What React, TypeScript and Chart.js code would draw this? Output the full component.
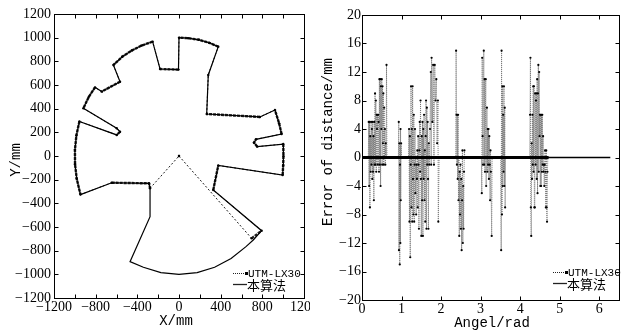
import React, { useEffect, useRef } from 'react';
import { Chart, registerables } from 'chart.js';
Chart.register(...registerables);

// ---------- Left panel: scan outline (X/mm, Y/mm) ----------
// "本算法" : full 360° outline, counter-clockwise from -45°
const algoOutline: [number, number][] = [
  [713, -710], [793, -631], [329, -287], [377, -80], [995, -161], [1000, -80], [1003, 0], [1001, 101],
  [751, 79], [720, 113], [739, 141], [985, 186], [961, 276], [921, 389], [777, 330], [266, 355],
  [281, 685], [377, 924], [292, 956], [191, 982], [87, 996], [0, 1000], [-5, 730], [-182, 735],
  [-253, 966], [-358, 934], [-454, 891], [-545, 839], [-630, 769], [-566, 628], [-742, 544], [-806, 580],
  [-866, 500], [-918, 403], [-598, 234], [-566, 205], [-598, 178], [-956, 292], [-985, 174], [-999, 52],
  [-998, -70], [-982, -191], [-946, -326], [-646, -226], [-288, -231], [-278, -273], [-278, -513], [-470, -893],
  [-342, -940], [-174, -985], [0, -1000], [174, -985], [342, -940], [500, -866], [643, -766], [713, -710],
];
// "UTM-LX30" : 270° scan, dead zone closed through the origin
const utmOutline: [number, number][] = [
  [0, 0], [697, -696], [793, -631], [329, -287], [377, -80], [995, -161], [1000, -80], [1003, 0], [1001, 101],
  [751, 79], [720, 113], [739, 141], [985, 186], [961, 276], [921, 389], [777, 330], [266, 355],
  [281, 685], [377, 924], [292, 956], [191, 982], [87, 996], [0, 1000], [-5, 730], [-182, 735],
  [-253, 966], [-358, 934], [-454, 891], [-545, 839], [-630, 769], [-566, 628], [-742, 544], [-806, 580],
  [-866, 500], [-918, 403], [-598, 234], [-566, 205], [-598, 178], [-956, 292], [-985, 174], [-999, 52],
  [-998, -70], [-982, -191], [-946, -326], [-646, -226], [-288, -231], [-278, -273], [0, 0],
];

// ---------- Right panel: distance error vs angle ----------
const clusterA: [number, number][] = [
  [0, 0], [0.16, 0], [0.17, 5], [0.18, -4], [0.19, 5], [0.2, -7], [0.21, 3], [0.22, -2], [0.23, 5], [0.24, -1],
  [0.25, 4], [0.26, -3], [0.27, 5], [0.28, -2], [0.29, 3], [0.3, -6], [0.31, 5], [0.32, -1], [0.33, 9], [0.34, -1],
  [0.35, 8], [0.36, -2], [0.37, 6], [0.38, 4], [0.39, 6], [0.4, -1], [0.41, 6], [0.42, 5], [0.43, -2], [0.44, 11],
  [0.45, -1], [0.46, 11], [0.47, -4], [0.48, 10], [0.49, 4], [0.5, 11], [0.51, -1], [0.52, 10], [0.53, 2], [0.54, 9],
  [0.55, -1], [0.56, 7], [0.57, 0], [0.58, 4], [0.59, -1], [0.6, 2], [0.61, 0], [0.62, 13], [0.63, 0],
];
const clusterB: [number, number][] = [
  [0.92, 0], [0.93, 5], [0.935, -13], [0.945, 2], [0.955, -15], [0.96, -1], [0.97, -12], [0.975, 4], [0.98, -6],
  [0.99, 2], [1.0, 0],
];
const clusterC: [number, number][] = [
  [1.18, 0], [1.19, 4], [1.2, -9], [1.21, 3], [1.22, -14], [1.23, -1], [1.24, 10], [1.25, -7], [1.26, 4], [1.27, -9],
  [1.28, 10], [1.29, -3], [1.3, -8], [1.31, 6], [1.32, -9], [1.33, -1], [1.34, 4], [1.35, -5], [1.36, 0], [1.37, -8],
  [1.38, -1], [1.39, -3], [1.4, 1], [1.41, -7], [1.42, 3], [1.43, -1], [1.44, -10], [1.45, 1], [1.46, 5], [1.47, -2],
  [1.48, 8], [1.49, -3], [1.5, -11], [1.51, 3], [1.52, -6], [1.53, 5], [1.54, -11], [1.55, 4], [1.56, -3], [1.57, 6],
  [1.58, -6], [1.59, 1], [1.6, -9], [1.61, 3], [1.62, 8], [1.63, -10], [1.64, 7], [1.65, -1], [1.66, 5], [1.67, -3],
  [1.68, -10], [1.69, 2], [1.7, -1], [1.72, 4], [1.74, 12], [1.75, -1], [1.76, 14], [1.78, 5], [1.8, 13], [1.82, -1],
  [1.84, 13], [1.86, 8], [1.88, 11], [1.9, 2], [1.92, 8], [1.93, -9], [1.95, 0],
];
const clusterD: [number, number][] = [
  [2.37, 0], [2.38, 15], [2.39, 6], [2.4, -1], [2.41, 6], [2.42, -3], [2.43, 6], [2.44, -6], [2.45, 0], [2.46, -11],
  [2.47, -2], [2.48, -8], [2.49, -1], [2.5, -10], [2.51, -3], [2.52, -13], [2.53, -6], [2.54, 1], [2.55, -12],
  [2.56, -4], [2.57, -10], [2.58, -2], [2.59, 1], [2.6, 0],
];
const clusterE: [number, number][] = [
  [3.02, 0], [3.03, -5], [3.04, 14], [3.05, 3], [3.06, -1], [3.08, 15], [3.09, -1], [3.1, 11], [3.11, -2], [3.13, 11],
  [3.14, -4], [3.16, 7], [3.17, -2], [3.18, 4], [3.19, -1], [3.2, 4], [3.21, -3], [3.22, 3], [3.23, -1], [3.24, -6],
  [3.25, 1], [3.26, -2], [3.28, -11], [3.29, 0],
];
const clusterF: [number, number][] = [
  [3.51, 0], [3.52, -13], [3.53, 15], [3.54, -8], [3.55, 10], [3.56, -4], [3.57, 6], [3.58, -2], [3.59, 10],
  [3.6, -4], [3.61, 7], [3.62, -7], [3.63, 0],
];
const clusterG: [number, number][] = [
  [4.24, 0], [4.25, 6], [4.26, 14], [4.27, -7], [4.28, -11], [4.29, 2], [4.3, -3], [4.31, 6], [4.32, -1], [4.33, 10],
  [4.34, -2], [4.35, 10], [4.36, -7], [4.37, -7], [4.38, 9], [4.39, -1], [4.4, 8], [4.41, 9], [4.42, -3], [4.43, 11],
  [4.44, -5], [4.45, 9], [4.46, 13], [4.47, -2], [4.48, 12], [4.49, 3], [4.5, 6], [4.51, -4], [4.52, 6], [4.53, -4],
  [4.54, 6], [4.55, -2], [4.56, 6], [4.57, -1], [4.58, 3], [4.59, -2], [4.6, -1], [4.61, -4], [4.62, -1], [4.63, 1],
  [4.64, -2], [4.65, -7], [4.66, 1], [4.67, -7], [4.68, -9], [4.69, -2], [4.7, 0], [4.71, 0],
];
const algoError: [number, number][] = [[0, 0], [4.71, 0], [6.28, 0]];

// ---------- Ticks & labels ----------
const leftXTicks = [-1200, -1000, -800, -600, -400, -200, 0, 200, 400, 600, 800, 1000, 1200];
const leftXLabels = [-1200, -800, -400, 0, 400, 800, 1200];
const leftYTicks = [-1200, -1000, -800, -600, -400, -200, 0, 200, 400, 600, 800, 1000, 1200];
const rightXTicks = [0, 1, 2, 3, 4, 5, 6];
const rightYTicks = [-20, -16, -12, -8, -4, 0, 4, 8, 12, 16, 20];
const seriesNames = ['UTM-LX30', '本算法'];
const leftTitles = { x: 'X/mm', y: 'Y/mm' };
const rightTitles = { x: 'Angel/rad', y: 'Error of distance/mm' };

const TICK_FONT = { family: '"Liberation Serif", "Times New Roman", serif', size: 14 };
const MONO = '"Liberation Mono", "DejaVu Sans Mono", monospace';
const CJK = '"Noto Sans CJK SC", sans-serif';

const fmt = (v: number) => (v < 0 ? '\u2212' + Math.abs(v) : String(v));
const toXY = (arr: [number, number][]) => arr.map(([x, y]) => ({ x, y }));

// segment facing the scanner (dense returns) vs. grazing/radial segment
const isFacing = (c: any) => {
  const x0 = c.p0.parsed.x, y0 = c.p0.parsed.y, x1 = c.p1.parsed.x, y1 = c.p1.parsed.y;
  const dx = x1 - x0, dy = y1 - y0, mx = (x0 + x1) / 2, my = (y0 + y1) / 2;
  const dl = Math.hypot(dx, dy), ml = Math.hypot(mx, my);
  if (dl === 0 || ml === 0) return false;
  return Math.abs(dx * my - dy * mx) / (dl * ml) > 0.45;
};

type Deco = {
  xTitle: string; yTitle: string;
  xTitlePos: [number, number]; yTitlePos: [number, number];
  legendX: number; legendY: number;
};

function decoPlugin(d: Deco) {
  return {
    id: 'deco',
    afterDraw(chart: any) {
      const { ctx, chartArea } = chart;
      const { left, right, top, bottom } = chartArea;
      const xs = chart.scales.x, ys = chart.scales.y;
      ctx.save();
      ctx.strokeStyle = '#000';
      ctx.lineWidth = 1;
      ctx.setLineDash([]);
      const L = Math.round(left) + 0.5, R = Math.round(right) + 0.5;
      const T = Math.round(top) + 0.5, B = Math.round(bottom) + 0.5;
      ctx.strokeRect(L, T, R - L, B - T);
      const tl = 4;
      ctx.beginPath();
      xs.ticks.forEach((t: any) => {
        const p = Math.round(xs.getPixelForValue(t.value)) + 0.5;
        ctx.moveTo(p, B); ctx.lineTo(p, B - tl);
        ctx.moveTo(p, T); ctx.lineTo(p, T + tl);
      });
      ys.ticks.forEach((t: any) => {
        const p = Math.round(ys.getPixelForValue(t.value)) + 0.5;
        ctx.moveTo(L, p); ctx.lineTo(L + tl, p);
        ctx.moveTo(R, p); ctx.lineTo(R - tl, p);
      });
      ctx.stroke();

      // axis titles
      ctx.fillStyle = '#000';
      ctx.font = `14px ${MONO}`;
      ctx.textAlign = 'center';
      ctx.textBaseline = 'middle';
      ctx.fillText(d.xTitle, d.xTitlePos[0], d.xTitlePos[1]);
      ctx.save();
      ctx.translate(d.yTitlePos[0], d.yTitlePos[1]);
      ctx.rotate(-Math.PI / 2);
      ctx.fillText(d.yTitle, 0, 0);
      ctx.restore();

      // legend (inside, bottom-right)
      const lx = d.legendX, ly = d.legendY;
      ctx.strokeStyle = '#222';
      ctx.setLineDash([1, 1]);
      ctx.beginPath();
      ctx.moveTo(lx, ly + 0.5); ctx.lineTo(lx + 12, ly + 0.5);
      ctx.stroke();
      ctx.setLineDash([]);
      ctx.fillStyle = '#000';
      ctx.fillRect(lx + 12, ly - 1, 3, 3);
      ctx.textAlign = 'left';
      ctx.font = `11px ${MONO}`;
      ctx.fillText(seriesNames[0], lx + 15, ly + 1);
      ctx.lineWidth = 1.3;
      ctx.beginPath();
      ctx.moveTo(lx, ly + 11.5); ctx.lineTo(lx + 14, ly + 11.5);
      ctx.stroke();
      ctx.font = `13px ${CJK}`;
      ctx.fillText(seriesNames[1], lx + 14, ly + 12);
      ctx.restore();
    },
  };
}

function fixScale(size: number, vertical: boolean) {
  return (s: any) => {
    if (vertical) s.width = size; else s.height = size;
    s.paddingLeft = 0; s.paddingRight = 0; s.paddingTop = 0; s.paddingBottom = 0;
  };
}

export default function App() {
  const leftRef = useRef<HTMLCanvasElement>(null);
  const rightRef = useRef<HTMLCanvasElement>(null);

  useEffect(() => {
    const leftChart = new Chart(leftRef.current!, {
      type: 'scatter',
      data: {
        datasets: [
          {
            label: seriesNames[1],
            data: toXY(algoOutline),
            showLine: true,
            borderColor: '#000',
            borderWidth: 1.2,
            pointRadius: 0,
          },
          {
            label: seriesNames[0],
            data: toXY(utmOutline),
            showLine: true,
            borderColor: '#222',
            borderWidth: 1,
            borderDash: [2, 2],
            segment: {
              borderWidth: (c: any) => (isFacing(c) ? 2.4 : 1),
              borderDash: (c: any) => (isFacing(c) ? [3, 1] : [2, 2]),
            },
            pointRadius: 1.2,
            pointBackgroundColor: '#000',
            pointBorderWidth: 0,
          },
        ],
      },
      options: {
        responsive: false,
        animation: false,
        events: [],
        layout: { padding: { left: 0, right: 6, top: 14, bottom: 0 } },
        plugins: { legend: { display: false }, tooltip: { enabled: false } },
        scales: {
          x: {
            type: 'linear', min: -1200, max: 1200,
            afterBuildTicks: (s: any) => { s.ticks = leftXTicks.map((v) => ({ value: v })); },
            afterFit: fixScale(37, false),
            grid: { display: false, drawTicks: false },
            border: { display: false },
            ticks: {
              font: TICK_FONT, color: '#000', padding: 1, maxRotation: 0, autoSkip: false,
              callback: (v: any) => (leftXLabels.includes(Number(v)) ? fmt(Number(v)) : ''),
            },
          },
          y: {
            type: 'linear', min: -1200, max: 1200,
            afterBuildTicks: (s: any) => { s.ticks = leftYTicks.map((v) => ({ value: v })); },
            afterFit: fixScale(54, true),
            grid: { display: false, drawTicks: false },
            border: { display: false },
            ticks: { font: TICK_FONT, color: '#000', padding: 3, autoSkip: false, callback: (v: any) => fmt(Number(v)) },
          },
        },
      },
      plugins: [decoPlugin({
        xTitle: leftTitles.x, yTitle: leftTitles.y,
        xTitlePos: [176, 321], yTitlePos: [16, 160],
        legendX: 233, legendY: 273,
      })],
    } as any);

    const rightChart = new Chart(rightRef.current!, {
      type: 'scatter',
      data: {
        datasets: [
          {
            label: seriesNames[1],
            data: toXY(algoError),
            showLine: true,
            borderColor: '#000',
            borderWidth: 1.5,
            pointRadius: 0,
            segment: { borderWidth: (c: any) => (c.p0.parsed.x < 4.7 ? 3 : 1.5) },
          },
          {
            label: seriesNames[0],
            data: toXY([...clusterA, ...clusterB, ...clusterC, ...clusterD, ...clusterE, ...clusterF, ...clusterG]),
            showLine: true,
            borderColor: '#777',
            borderWidth: 1,
            borderDash: [1, 1],
            pointRadius: 1.1,
            pointBackgroundColor: '#000',
            pointBorderWidth: 0,
          },
        ],
      },
      options: {
        responsive: false,
        animation: false,
        events: [],
        layout: { padding: { left: 0, right: 2, top: 15, bottom: 0 } },
        plugins: { legend: { display: false }, tooltip: { enabled: false } },
        scales: {
          x: {
            type: 'linear', min: 0, max: 6.5,
            afterBuildTicks: (s: any) => { s.ticks = rightXTicks.map((v) => ({ value: v })); },
            afterFit: fixScale(35, false),
            grid: { display: false, drawTicks: false },
            border: { display: false },
            ticks: { font: TICK_FONT, color: '#000', padding: 1, maxRotation: 0, autoSkip: false, callback: (v: any) => fmt(Number(v)) },
          },
          y: {
            type: 'linear', min: -20, max: 20,
            afterBuildTicks: (s: any) => { s.ticks = rightYTicks.map((v) => ({ value: v })); },
            afterFit: fixScale(52, true),
            grid: { display: false, drawTicks: false },
            border: { display: false },
            ticks: { font: TICK_FONT, color: '#000', padding: 1, autoSkip: false, callback: (v: any) => fmt(Number(v)) },
          },
        },
      },
      plugins: [decoPlugin({
        xTitle: rightTitles.x, yTitle: rightTitles.y,
        xTitlePos: [182, 323], yTitlePos: [18, 142],
        legendX: 243, legendY: 272,
      })],
    } as any);

    return () => { leftChart.destroy(); rightChart.destroy(); };
  }, []);

  return (
    <div style={{ position: 'fixed', left: 0, top: 0, width: 621, height: 335, overflow: 'hidden', background: '#fff' }}>
      <canvas ref={leftRef} width={310} height={335} style={{ position: 'absolute', left: 0, top: 0, width: 310, height: 335 }} />
      <canvas ref={rightRef} width={313} height={335} style={{ position: 'absolute', left: 310, top: 0, width: 313, height: 335 }} />
    </div>
  );
}
